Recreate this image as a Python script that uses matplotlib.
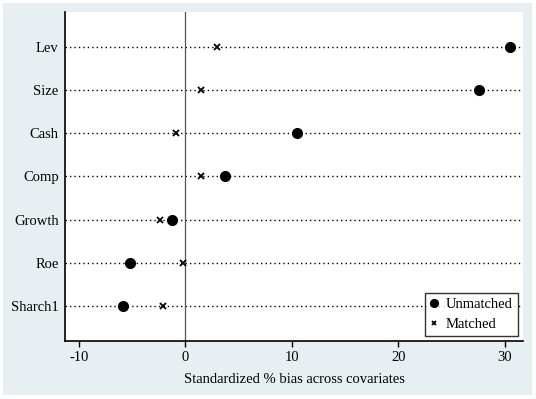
import numpy as np
import matplotlib.pyplot as plt
from matplotlib.patches import Rectangle

# Data
covariates = ['Lev', 'Size', 'Cash', 'Comp', 'Growth', 'Roe', 'Sharch1']
unmatched = [30.5, 27.6, 10.5, 3.7, -1.25, -5.2, -5.9]
matched = [3.0, 1.45, -0.85, 1.5, -2.4, -0.25, -2.1]
xticks = [-10, 0, 10, 20, 30]

plt.rcParams['font.family'] = ['Liberation Serif', 'DejaVu Serif']
plt.rcParams['axes.unicode_minus'] = False

fig = plt.figure(figsize=(5.36, 3.99), dpi=100, facecolor='white')
# light blue-grey graph region
fig.patches.append(Rectangle((3 / 536, 4 / 399), 529 / 536, 392 / 399,
                             transform=fig.transFigure, facecolor='#e8eff3',
                             edgecolor='none', zorder=-10))
ax = fig.add_axes([65 / 536, 1 - 341 / 399, 458 / 536, 329 / 399])
ax.set_zorder(5)
ax.set_facecolor('white')

ypos = np.arange(len(covariates))[::-1] + 1

for y in ypos:
    ax.plot([-11.3, 31.7], [y, y], color='black', linestyle=(0, (1, 2.2)),
            linewidth=1.0, zorder=1)

ax.axvline(0, color='#555555', linewidth=0.9, zorder=1)

ax.plot(unmatched, ypos, 'o', color='black', markersize=7, linestyle='none',
        label='Unmatched', zorder=3)
ax.plot(matched, ypos, 'x', color='black', markersize=4, markeredgewidth=1.3,
        linestyle='none', label='Matched', zorder=3)

ax.set_xlim(-11.3, 31.7)
ax.set_ylim(0.19, 7.81)
ax.set_yticks(ypos)
ax.set_yticklabels(covariates, fontsize=10.5)
ax.tick_params(axis='y', length=0, pad=4.5)
ax.set_xticks(xticks)
ax.tick_params(axis='x', length=4.5, width=1, labelsize=10.5, pad=3)
ax.spines['top'].set_visible(False)
ax.spines['right'].set_visible(False)
ax.spines['left'].set_linewidth(1.2)
ax.spines['bottom'].set_linewidth(1.2)
ax.set_xlabel('Standardized % bias across covariates', fontsize=10.5, labelpad=6)

leg = ax.legend(loc='lower right', fontsize=10.5, frameon=True, fancybox=False,
                edgecolor='black', handlelength=0.5, handletextpad=0.6,
                borderpad=0.35, labelspacing=0.45, markerscale=0.8,
                borderaxespad=0, bbox_to_anchor=(0.989, 0.015))
leg.get_frame().set_linewidth(1.0)

fig.savefig('out.png', dpi=100, facecolor='white')
